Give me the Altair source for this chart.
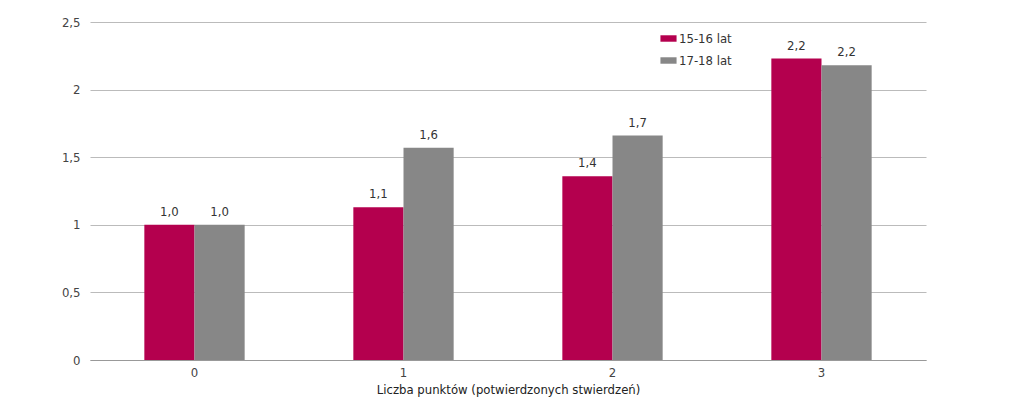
import altair as alt
import pandas as pd

categories = ["0", "1", "2", "3"]
groups = ["15-16 lat", "17-18 lat"]
values_15_16 = [1.0, 1.13, 1.36, 2.23]
values_17_18 = [1.0, 1.57, 1.66, 2.18]
colors = ["#b4004e", "#878787"]

rows = []
for i, c in enumerate(categories):
    rows.append({"cat": c, "grp": groups[0], "v": values_15_16[i]})
    rows.append({"cat": c, "grp": groups[1], "v": values_17_18[i]})
df = pd.DataFrame(rows)

FONT = "DejaVu Sans Condensed, Liberation Sans, sans-serif"

base = alt.Chart(df).encode(
    x=alt.X("cat:N", sort=categories,
            scale=alt.Scale(paddingInner=0.52, paddingOuter=0.26),
            axis=alt.Axis(title="Liczba punktów (potwierdzonych stwierdzeń)", labelAngle=0,
                          ticks=False, domain=True, domainColor="#999999",
                          labelColor="#444444", labelFontSize=13, labelPadding=6,
                          titleFontSize=13, titleFontWeight="normal", titleColor="#222222",
                          titlePadding=4, labelFont=FONT, titleFont=FONT, grid=False)),
    xOffset=alt.XOffset("grp:N", sort=groups),
)

bars = base.mark_bar().encode(
    y=alt.Y("v:Q", scale=alt.Scale(domain=[0, 2.5], nice=False),
            axis=alt.Axis(title=None, values=[0, 0.5, 1, 1.5, 2, 2.5],
                          labelExpr="replace(format(datum.value, '~g'), '.', ',')",
                          ticks=False, domain=False, grid=True, gridColor="#bbbbbb",
                          labelColor="#444444", labelFontSize=13, labelPadding=10,
                          labelFont=FONT)),
    color=alt.Color("grp:N", sort=groups,
                    scale=alt.Scale(domain=groups, range=colors),
                    legend=alt.Legend(title=None, orient="none", legendX=570, legendY=8,
                                      symbolType="M-1,-0.4H1V0.4H-1Z", symbolSize=260,
                                      symbolStrokeWidth=0, labelFont=FONT, labelFontSize=13,
                                      labelColor="#333333", rowPadding=6, labelOffset=2)),
)

labels = base.mark_text(baseline="bottom", dy=-6, font=FONT, fontSize=13, color="#333333").transform_calculate(
    lab="replace(format(datum.v, '.1f'), '.', ',')"
).encode(
    y="v:Q",
    text="lab:N",
)

chart = alt.layer(bars, labels).properties(
    width=836, height=338,
    autosize=alt.AutoSizeParams(type="none"),
    padding={"left": 82, "top": 14, "right": 10, "bottom": 40},
).configure_view(stroke=None)

chart.save("out.html", embed_options={"renderer": "svg", "actions": False})
